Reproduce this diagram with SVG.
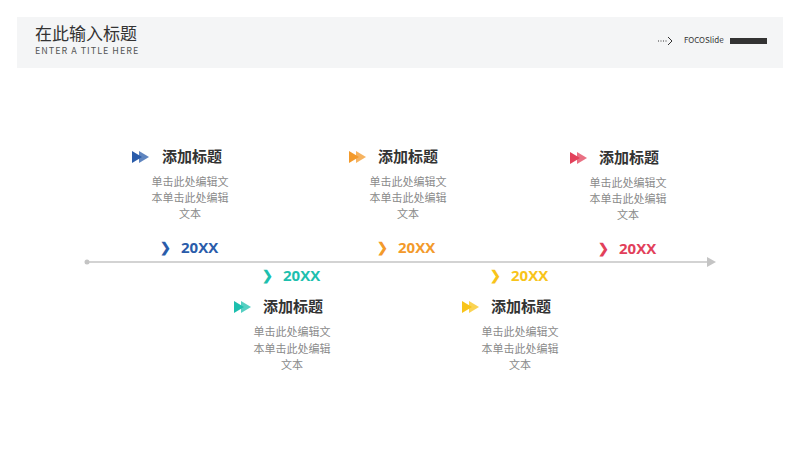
<svg xmlns="http://www.w3.org/2000/svg" width="800" height="450" viewBox="0 0 800 450">
<style>
text{font-family:"Noto Sans CJK SC","Liberation Sans",sans-serif}
.t{font-size:15px;font-weight:bold;fill:#333}
.b{font-size:11px;fill:#8a8a8a;text-anchor:middle}
.y{font-size:15px;font-weight:bold;font-family:"Open Sans","Liberation Sans",sans-serif}
.c{font-size:13px;font-weight:bold}
</style>
<defs>
<g id="ic"><polygon points="0,-6 10,0 0,6"/><polygon points="7,-6 17,0 7,6" opacity="0.75"/></g>
</defs>
<rect width="800" height="450" fill="#fff"/>
<rect x="17" y="17" width="766" height="51" fill="#f4f5f6"/>
<text x="35" y="40" font-size="17" fill="#333">在此输入标题</text>
<text x="35" y="54" font-size="9" fill="#555" letter-spacing="1">ENTER A TITLE HERE</text>
<line x1="658" y1="41" x2="667" y2="41" stroke="#333" stroke-width="1" stroke-dasharray="1,1.5"/>
<path d="M668,37 l4,4 l-4,4" fill="none" stroke="#333" stroke-width="1"/>
<text x="684" y="43" font-size="8" fill="#333" font-family="Liberation Sans,sans-serif">FOCOSlide</text>
<rect x="730" y="38" width="37" height="6" fill="#333"/>
<g id="connectors">
<line x1="87" y1="262" x2="708" y2="262" stroke="#c4c4c4" stroke-width="1.5"/>
<circle cx="87" cy="262" r="2.5" fill="#c4c4c4"/>
<polygon points="707,257 716,262 707,267" fill="#c4c4c4"/>
</g>
<g id="n1" fill="#2a5caa">
<use href="#ic" x="132" y="157"/>
<text class="t" x="162" y="162">添加标题</text>
<text class="b" x="190" y="186">单击此处编辑文</text><text class="b" x="190" y="202">本单击此处编辑</text><text class="b" x="190" y="218">文本</text>
<text class="c" x="160" y="252">❯</text><text class="y" x="181" y="253">20XX</text>
</g>
<g id="n2" fill="#1dbfae">
<text class="c" x="262" y="280">❯</text><text class="y" x="283" y="281">20XX</text>
<use href="#ic" x="234" y="307"/>
<text class="t" x="263" y="312">添加标题</text>
<text class="b" x="292" y="336">单击此处编辑文</text><text class="b" x="292" y="353">本单击此处编辑</text><text class="b" x="292" y="369">文本</text>
</g>
<g id="n3" fill="#f39a2b">
<use href="#ic" x="349" y="157"/>
<text class="t" x="378" y="162">添加标题</text>
<text class="b" x="408" y="186">单击此处编辑文</text><text class="b" x="408" y="202">本单击此处编辑</text><text class="b" x="408" y="218">文本</text>
<text class="c" x="377" y="252">❯</text><text class="y" x="398" y="253">20XX</text>
</g>
<g id="n4" fill="#f8c41a">
<text class="c" x="490" y="280">❯</text><text class="y" x="511" y="281">20XX</text>
<use href="#ic" x="462" y="307"/>
<text class="t" x="491" y="312">添加标题</text>
<text class="b" x="520" y="336">单击此处编辑文</text><text class="b" x="520" y="353">本单击此处编辑</text><text class="b" x="520" y="369">文本</text>
</g>
<g id="n5" fill="#e2405a">
<use href="#ic" x="570" y="158"/>
<text class="t" x="599" y="163">添加标题</text>
<text class="b" x="628" y="187">单击此处编辑文</text><text class="b" x="628" y="203">本单击此处编辑</text><text class="b" x="628" y="219">文本</text>
<text class="c" x="598" y="253">❯</text><text class="y" x="619" y="254">20XX</text>
</g>
</svg>
